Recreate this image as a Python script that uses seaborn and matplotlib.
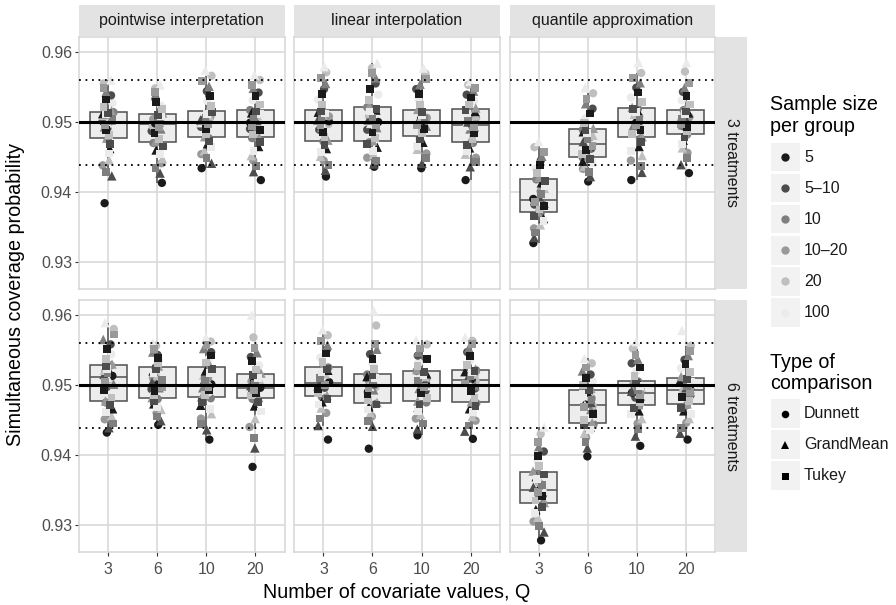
import numpy as np
import pandas as pd
import matplotlib
matplotlib.use("Agg")
import matplotlib.pyplot as plt
from matplotlib.patches import Rectangle
from matplotlib.lines import Line2D
import seaborn as sns

sns.set_theme(style="white")
plt.rcParams["font.family"] = ["Liberation Sans", "DejaVu Sans"]

# ---- categories -------------------------------------------------------------
q_levels = ["3", "6", "10", "20"]
methods = ["pointwise interpretation", "linear interpolation", "quantile approximation"]
treatments = ["3 treatments", "6 treatments"]
sample_sizes = ["5", "5\u201310", "10", "10\u201320", "20", "100"]
comparisons = ["Dunnett", "GrandMean", "Tukey"]
size_colors = ["#1a1a1a", "#4d4d4d", "#7f7f7f", "#999999", "#bfbfbf", "#ebebeb"]
comp_markers = ["o", "^", "s"]
marker_sizes = [6.0, 6.8, 5.6]

nominal_level = 0.95
mc_band = [0.9438, 0.9560]

# ---- simulated coverage probabilities (36 scenarios per box) ------------------
# 3 treatments, pointwise interpretation
pw3_q3 = [0.9384, 0.9423, 0.9429, 0.9438, 0.9446, 0.9455, 0.9462, 0.9468, 0.9475,
          0.9477, 0.9481, 0.9485, 0.9488, 0.9491, 0.9493, 0.9495, 0.9497, 0.9499,
          0.9501, 0.9503, 0.9505, 0.9507, 0.9509, 0.9511, 0.9512, 0.9513, 0.9514,
          0.9516, 0.9521, 0.9527, 0.9532, 0.9538, 0.9543, 0.9549, 0.9555, 0.9560]
pw3_q6 = [0.9413, 0.9427, 0.9434, 0.9441, 0.9448, 0.9454, 0.9460, 0.9465, 0.9470,
          0.9472, 0.9476, 0.9480, 0.9484, 0.9487, 0.9490, 0.9492, 0.9494, 0.9496,
          0.9498, 0.9500, 0.9502, 0.9504, 0.9506, 0.9508, 0.9509, 0.9510, 0.9511,
          0.9513, 0.9518, 0.9523, 0.9528, 0.9533, 0.9538, 0.9543, 0.9548, 0.9553]
pw3_q10 = [0.9434, 0.9441, 0.9448, 0.9454, 0.9459, 0.9464, 0.9469, 0.9473, 0.9477,
           0.9479, 0.9483, 0.9487, 0.9490, 0.9493, 0.9495, 0.9497, 0.9498, 0.9499,
           0.9501, 0.9503, 0.9505, 0.9507, 0.9509, 0.9511, 0.9513, 0.9514, 0.9515,
           0.9517, 0.9523, 0.9530, 0.9537, 0.9544, 0.9551, 0.9558, 0.9566, 0.9574]
pw3_q20 = [0.9417, 0.9429, 0.9437, 0.9445, 0.9452, 0.9459, 0.9465, 0.9471, 0.9477,
           0.9479, 0.9482, 0.9485, 0.9488, 0.9490, 0.9492, 0.9494, 0.9496, 0.9497,
           0.9499, 0.9502, 0.9504, 0.9507, 0.9509, 0.9511, 0.9513, 0.9515, 0.9517,
           0.9519, 0.9525, 0.9531, 0.9537, 0.9542, 0.9548, 0.9553, 0.9560, 0.9567]
# 3 treatments, linear interpolation
li3_q3 = [0.9422, 0.9431, 0.9438, 0.9445, 0.9451, 0.9457, 0.9462, 0.9467, 0.9472,
          0.9474, 0.9478, 0.9482, 0.9486, 0.9489, 0.9492, 0.9495, 0.9497, 0.9499,
          0.9501, 0.9503, 0.9505, 0.9508, 0.9510, 0.9512, 0.9514, 0.9515, 0.9516,
          0.9518, 0.9525, 0.9532, 0.9540, 0.9547, 0.9555, 0.9563, 0.9571, 0.9579]
li3_q6 = [0.9436, 0.9440, 0.9444, 0.9449, 0.9454, 0.9459, 0.9464, 0.9468, 0.9471,
          0.9473, 0.9477, 0.9481, 0.9485, 0.9489, 0.9492, 0.9495, 0.9497, 0.9498,
          0.9500, 0.9503, 0.9506, 0.9509, 0.9512, 0.9515, 0.9517, 0.9519, 0.9521,
          0.9523, 0.9531, 0.9539, 0.9547, 0.9555, 0.9563, 0.9570, 0.9577, 0.9584]
li3_q10 = [0.9434, 0.9441, 0.9448, 0.9455, 0.9461, 0.9466, 0.9471, 0.9475, 0.9478,
           0.9480, 0.9484, 0.9487, 0.9490, 0.9492, 0.9494, 0.9496, 0.9497, 0.9498,
           0.9500, 0.9502, 0.9504, 0.9506, 0.9508, 0.9510, 0.9512, 0.9514, 0.9516,
           0.9518, 0.9525, 0.9532, 0.9540, 0.9547, 0.9554, 0.9561, 0.9569, 0.9577]
li3_q20 = [0.9417, 0.9436, 0.9443, 0.9449, 0.9454, 0.9459, 0.9463, 0.9467, 0.9470,
           0.9472, 0.9476, 0.9480, 0.9484, 0.9487, 0.9490, 0.9492, 0.9494, 0.9495,
           0.9497, 0.9500, 0.9503, 0.9506, 0.9509, 0.9512, 0.9515, 0.9517, 0.9518,
           0.9520, 0.9525, 0.9530, 0.9535, 0.9539, 0.9544, 0.9548, 0.9553, 0.9558]
# 3 treatments, quantile approximation
qa3_q3 = [0.9327, 0.9335, 0.9342, 0.9348, 0.9353, 0.9358, 0.9362, 0.9366, 0.9370,
          0.9372, 0.9375, 0.9378, 0.9380, 0.9382, 0.9384, 0.9386, 0.9387, 0.9388,
          0.9390, 0.9393, 0.9397, 0.9401, 0.9405, 0.9409, 0.9413, 0.9416, 0.9418,
          0.9421, 0.9427, 0.9433, 0.9439, 0.9445, 0.9451, 0.9457, 0.9464, 0.9472]
qa3_q6 = [0.9415, 0.9422, 0.9428, 0.9433, 0.9437, 0.9441, 0.9444, 0.9447, 0.9449,
          0.9451, 0.9454, 0.9457, 0.9460, 0.9462, 0.9464, 0.9466, 0.9467, 0.9468,
          0.9470, 0.9472, 0.9475, 0.9478, 0.9481, 0.9484, 0.9486, 0.9488, 0.9489,
          0.9491, 0.9498, 0.9505, 0.9512, 0.9519, 0.9526, 0.9533, 0.9541, 0.9549]
qa3_q10 = [0.9417, 0.9428, 0.9437, 0.9445, 0.9452, 0.9459, 0.9465, 0.9471, 0.9477,
           0.9479, 0.9483, 0.9486, 0.9489, 0.9492, 0.9494, 0.9496, 0.9497, 0.9498,
           0.9499, 0.9502, 0.9505, 0.9508, 0.9511, 0.9514, 0.9516, 0.9518, 0.9519,
           0.9521, 0.9528, 0.9535, 0.9542, 0.9549, 0.9556, 0.9563, 0.9570, 0.9585]
qa3_q20 = [0.9427, 0.9439, 0.9448, 0.9456, 0.9463, 0.9469, 0.9474, 0.9478, 0.9482,
           0.9484, 0.9487, 0.9490, 0.9492, 0.9494, 0.9496, 0.9497, 0.9498, 0.9499,
           0.9501, 0.9503, 0.9505, 0.9507, 0.9509, 0.9511, 0.9513, 0.9515, 0.9517,
           0.9519, 0.9525, 0.9531, 0.9537, 0.9543, 0.9549, 0.9556, 0.9572, 0.9585]
# 6 treatments, pointwise interpretation
pw6_q3 = [0.9432, 0.9439, 0.9445, 0.9451, 0.9456, 0.9461, 0.9466, 0.9471, 0.9475,
          0.9477, 0.9482, 0.9487, 0.9492, 0.9497, 0.9501, 0.9505, 0.9508, 0.9511,
          0.9513, 0.9515, 0.9517, 0.9519, 0.9521, 0.9523, 0.9525, 0.9527, 0.9528,
          0.9530, 0.9537, 0.9544, 0.9551, 0.9558, 0.9565, 0.9572, 0.9580, 0.9589]
pw6_q6 = [0.9443, 0.9449, 0.9455, 0.9460, 0.9465, 0.9469, 0.9473, 0.9477, 0.9480,
          0.9482, 0.9485, 0.9488, 0.9491, 0.9494, 0.9496, 0.9497, 0.9498, 0.9499,
          0.9501, 0.9504, 0.9507, 0.9510, 0.9514, 0.9517, 0.9520, 0.9523, 0.9525,
          0.9527, 0.9531, 0.9535, 0.9539, 0.9543, 0.9547, 0.9551, 0.9556, 0.9560]
pw6_q10 = [0.9422, 0.9436, 0.9444, 0.9452, 0.9459, 0.9466, 0.9471, 0.9476, 0.9481,
           0.9483, 0.9486, 0.9489, 0.9492, 0.9494, 0.9496, 0.9497, 0.9498, 0.9499,
           0.9501, 0.9504, 0.9507, 0.9510, 0.9514, 0.9517, 0.9520, 0.9523, 0.9525,
           0.9527, 0.9532, 0.9537, 0.9542, 0.9547, 0.9552, 0.9557, 0.9562, 0.9568]
pw6_q20 = [0.9383, 0.9410, 0.9424, 0.9440, 0.9452, 0.9462, 0.9470, 0.9476, 0.9480,
           0.9482, 0.9485, 0.9487, 0.9489, 0.9490, 0.9491, 0.9492, 0.9493, 0.9494,
           0.9496, 0.9499, 0.9502, 0.9505, 0.9508, 0.9510, 0.9512, 0.9514, 0.9515,
           0.9517, 0.9522, 0.9528, 0.9534, 0.9540, 0.9546, 0.9553, 0.9568, 0.9600]
# 6 treatments, linear interpolation
li6_q3 = [0.9422, 0.9442, 0.9452, 0.9460, 0.9467, 0.9472, 0.9476, 0.9480, 0.9483,
          0.9485, 0.9488, 0.9491, 0.9494, 0.9496, 0.9498, 0.9500, 0.9501, 0.9502,
          0.9504, 0.9507, 0.9510, 0.9513, 0.9516, 0.9519, 0.9521, 0.9523, 0.9525,
          0.9527, 0.9533, 0.9539, 0.9545, 0.9551, 0.9557, 0.9563, 0.9571, 0.9579]
li6_q6 = [0.9409, 0.9441, 0.9449, 0.9455, 0.9460, 0.9465, 0.9469, 0.9472, 0.9473,
          0.9475, 0.9479, 0.9483, 0.9487, 0.9490, 0.9493, 0.9495, 0.9497, 0.9498,
          0.9500, 0.9502, 0.9504, 0.9506, 0.9508, 0.9510, 0.9512, 0.9514, 0.9515,
          0.9517, 0.9523, 0.9530, 0.9537, 0.9544, 0.9551, 0.9558, 0.9585, 0.9606]
li6_q10 = [0.9428, 0.9437, 0.9445, 0.9452, 0.9458, 0.9463, 0.9468, 0.9472, 0.9475,
           0.9477, 0.9481, 0.9485, 0.9489, 0.9492, 0.9495, 0.9497, 0.9498, 0.9499,
           0.9501, 0.9503, 0.9506, 0.9509, 0.9512, 0.9514, 0.9516, 0.9518, 0.9520,
           0.9522, 0.9527, 0.9532, 0.9537, 0.9542, 0.9547, 0.9552, 0.9558, 0.9564]
li6_q20 = [0.9423, 0.9434, 0.9442, 0.9449, 0.9455, 0.9461, 0.9466, 0.9470, 0.9474,
           0.9476, 0.9481, 0.9486, 0.9491, 0.9495, 0.9499, 0.9502, 0.9505, 0.9506,
           0.9508, 0.9510, 0.9512, 0.9514, 0.9516, 0.9518, 0.9519, 0.9520, 0.9521,
           0.9523, 0.9529, 0.9535, 0.9541, 0.9547, 0.9553, 0.9558, 0.9563, 0.9568]
# 6 treatments, quantile approximation
qa6_q3 = [0.9278, 0.9290, 0.9298, 0.9305, 0.9311, 0.9317, 0.9322, 0.9326, 0.9330,
          0.9332, 0.9335, 0.9338, 0.9341, 0.9343, 0.9345, 0.9347, 0.9348, 0.9349,
          0.9351, 0.9354, 0.9357, 0.9360, 0.9363, 0.9366, 0.9369, 0.9372, 0.9375,
          0.9377, 0.9384, 0.9391, 0.9398, 0.9405, 0.9412, 0.9419, 0.9430, 0.9440]
qa6_q6 = [0.9398, 0.9410, 0.9418, 0.9425, 0.9431, 0.9436, 0.9440, 0.9442, 0.9444,
          0.9446, 0.9450, 0.9454, 0.9458, 0.9462, 0.9465, 0.9468, 0.9470, 0.9471,
          0.9472, 0.9475, 0.9478, 0.9481, 0.9484, 0.9487, 0.9490, 0.9492, 0.9493,
          0.9495, 0.9500, 0.9505, 0.9510, 0.9515, 0.9520, 0.9525, 0.9531, 0.9538]
qa6_q10 = [0.9413, 0.9427, 0.9437, 0.9445, 0.9452, 0.9458, 0.9463, 0.9467, 0.9470,
           0.9472, 0.9475, 0.9478, 0.9480, 0.9482, 0.9484, 0.9486, 0.9487, 0.9488,
           0.9489, 0.9491, 0.9493, 0.9495, 0.9497, 0.9499, 0.9501, 0.9503, 0.9505,
           0.9507, 0.9513, 0.9519, 0.9525, 0.9531, 0.9537, 0.9543, 0.9552, 0.9562]
qa6_q20 = [0.9422, 0.9431, 0.9439, 0.9446, 0.9452, 0.9458, 0.9463, 0.9467, 0.9471,
           0.9473, 0.9477, 0.9480, 0.9483, 0.9486, 0.9488, 0.9490, 0.9491, 0.9492,
           0.9494, 0.9496, 0.9498, 0.9500, 0.9502, 0.9504, 0.9506, 0.9508, 0.9510,
           0.9512, 0.9518, 0.9524, 0.9530, 0.9536, 0.9542, 0.9548, 0.9556, 0.9578]

panel_values = {
    ("3 treatments", "pointwise interpretation"): [pw3_q3, pw3_q6, pw3_q10, pw3_q20],
    ("3 treatments", "linear interpolation"): [li3_q3, li3_q6, li3_q10, li3_q20],
    ("3 treatments", "quantile approximation"): [qa3_q3, qa3_q6, qa3_q10, qa3_q20],
    ("6 treatments", "pointwise interpretation"): [pw6_q3, pw6_q6, pw6_q10, pw6_q20],
    ("6 treatments", "linear interpolation"): [li6_q3, li6_q6, li6_q10, li6_q20],
    ("6 treatments", "quantile approximation"): [qa6_q3, qa6_q6, qa6_q10, qa6_q20],
}

# long table: every scenario gets a sample size and a comparison type
rows = []
for (trt, meth), groups in panel_values.items():
    for q, vals in zip(q_levels, groups):
        for i, v in enumerate(vals):
            rows.append(dict(treat=trt, method=meth, Q=q, coverage=v,
                             size=sample_sizes[i % 6],
                             comp=comparisons[(i + i // 6) % 3]))
df = pd.DataFrame(rows)

# ---- figure layout (pixel geometry) ------------------------------------------
W, H = 896, 605
fig = plt.figure(figsize=(W / 100, H / 100), dpi=100)
col_x = [(79, 284.5), (294, 500), (509.5, 715)]
row_y = [(37, 289), (300, 552)]
ylim = (0.92614, 0.96214)
grid_col = "#d6d6d6"
strip_col = "#e3e3e3"
text_col = "#1a1a1a"
tick_col = "#4d4d4d"


def rect(x0, y0, x1, y1):
    return [x0 / W, 1 - y1 / H, (x1 - x0) / W, (y1 - y0) / H]


np.random.seed(11)
for r, trt in enumerate(treatments):
    for c, meth in enumerate(methods):
        (x0, x1), (y0, y1) = col_x[c], row_y[r]
        ax = fig.add_axes(rect(x0, y0, x1, y1))
        sub = df[(df.treat == trt) & (df.method == meth)]

        sns.boxplot(data=sub, x="Q", y="coverage", order=q_levels, ax=ax,
                    width=0.76, showfliers=False, showcaps=False, whis=1.5,
                    color="#ededed", saturation=1, linecolor="#555555",
                    linewidth=1.15)
        for comp, mk, ms in zip(comparisons, comp_markers, marker_sizes):
            sns.stripplot(data=sub[sub.comp == comp], x="Q", y="coverage",
                          order=q_levels, hue="size", hue_order=sample_sizes,
                          palette=size_colors, marker=mk, size=ms,
                          jitter=0.12, linewidth=0, legend=False, ax=ax,
                          zorder=3)

        ax.axhline(nominal_level, color="black", lw=2.2, zorder=5)
        for b in mc_band:
            ax.axhline(b, color="black", lw=1.3, ls=(0, (1, 2.6)),
                       dash_capstyle="butt", zorder=5)

        ax.set_xlim(-0.6, 3.6)
        ax.set_ylim(*ylim)
        ax.set_yticks([0.93, 0.94, 0.95, 0.96])
        ax.set_yticklabels(["0.93", "0.94", "0.95", "0.96"])
        ax.set_axisbelow(True)
        ax.grid(True, color=grid_col, lw=1.1)
        ax.set_facecolor("white")
        for sp in ax.spines.values():
            sp.set_color(grid_col)
            sp.set_linewidth(1.1)
        ax.set_xlabel("")
        ax.set_ylabel("")
        ax.tick_params(axis="both", colors="#333333", labelcolor=tick_col,
                       labelsize=11.5, length=3, width=0.8)
        ax.tick_params(axis="y", pad=2)
        ax.tick_params(axis="x", pad=4)
        if c > 0:
            ax.tick_params(axis="y", left=False, labelleft=False)
        else:
            ax.tick_params(axis="y", left=True)
        if r == 0:
            ax.tick_params(axis="x", bottom=False, labelbottom=False)
        else:
            ax.tick_params(axis="x", bottom=True)

# ---- strips, titles and legends on an overlay -------------------------------
ov = fig.add_axes([0, 0, 1, 1])
ov.set_xlim(0, W)
ov.set_ylim(H, 0)
ov.axis("off")

for c, meth in enumerate(methods):
    x0, x1 = col_x[c]
    ov.add_patch(Rectangle((x0, 5), x1 - x0, 30.5, color=strip_col, lw=0))
    ov.text((x0 + x1) / 2, 20.5, meth, ha="center", va="center",
            fontsize=11.5, color=text_col)
for r, trt in enumerate(treatments):
    y0, y1 = row_y[r]
    ov.add_patch(Rectangle((716, y0), 31, y1 - y0, color=strip_col, lw=0))
    ov.text(731.5, (y0 + y1) / 2, trt, ha="center", va="center",
            rotation=-90, fontsize=11.5, color=text_col)

ov.text(16, (row_y[0][0] + row_y[1][1]) / 2, "Simultaneous coverage probability",
        rotation=90, ha="center", va="center", fontsize=14.2, color="black")
ov.text((col_x[0][0] + col_x[2][1]) / 2, 593, "Number of covariate values, Q",
        ha="center", va="center", fontsize=14.2, color="black")

# legend: sample size per group
ov.text(770, 105, "Sample size", ha="left", va="center", fontsize=14.2, color="black")
ov.text(770, 127, "per group", ha="left", va="center", fontsize=14.2, color="black")
for k, (lab, col) in enumerate(zip(sample_sizes, size_colors)):
    yc = 157 + k * 31.1
    ov.add_patch(Rectangle((771, yc - 14.3), 28.5, 28.6, color="#f2f2f2", lw=0))
    ov.add_line(Line2D([785.2], [yc], marker="o", ms=6.0, mew=0, color=col))
    ov.text(804, yc, lab, ha="left", va="center", fontsize=11.5, color=text_col)

# legend: type of comparison
ov.text(770, 362, "Type of", ha="left", va="center", fontsize=14.2, color="black")
ov.text(770, 383.5, "comparison", ha="left", va="center", fontsize=14.2, color="black")
for k, (lab, mk) in enumerate(zip(comparisons, comp_markers)):
    yc = 413.5 + k * 31.1
    ov.add_patch(Rectangle((771, yc - 14.3), 28.5, 28.6, color="#f2f2f2", lw=0))
    ov.add_line(Line2D([785.2], [yc], marker=mk, ms=marker_sizes[k] * 0.9,
                       mew=0, color="black"))
    ov.text(804, yc, lab, ha="left", va="center", fontsize=11.5, color=text_col)

fig.savefig("out.png", dpi=100)
